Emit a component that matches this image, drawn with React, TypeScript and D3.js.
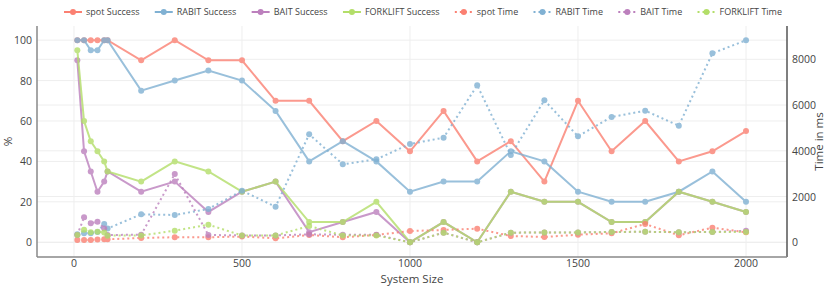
import React, { useEffect, useRef } from "react";
import * as d3 from "d3";

// system sizes on the x axis
const sizes = [10, 30, 50, 70, 90, 100, 200, 300, 400, 500, 600, 700, 800, 900, 1000, 1100, 1200, 1300, 1400, 1500, 1600, 1700, 1800, 1900, 2000];

// success rates in %
const spotSuccess = [100, 100, 100, 100, 100, 100, 90, 100, 90, 90, 70, 70, 50, 60, 45, 65, 40, 50, 30, 70, 45, 60, 40, 45, 55];
const rabitSuccess = [100, 100, 95, 95, 100, 100, 75, 80, 85, 80, 65, 40, 50, 40, 25, 30, 30, 45, 40, 25, 20, 20, 25, 35, 20];
const baitSuccess = [90, 45, 35, 25, 30, 35, 25, 30, 15, 25, 30, 5, 10, 15, 0, 10, 0, 25, 20, 20, 10, 10, 25, 20, 15];
const forkliftSuccess = [95, 60, 50, 45, 40, 35, 30, 40, 35, 25, 30, 10, 10, 20, 0, 10, 0, 25, 20, 20, 10, 10, 25, 20, 15];

// run times in ms
const spotTime = [100, 100, 100, 120, 130, 130, 190, 220, 220, 250, 175, 320, 220, 320, 494, 538, 595, 275, 232, 333, 393, 800, 305, 640, 437];
const rabitTime = [350, 393, 400, 450, 800, 600, 1224, 1193, 1456, 2256, 1556, 4721, 3410, 3628, 4297, 4573, 6863, 3816, 6208, 4634, 5478, 5753, 5097, 8262, 8831];
const baitTime = [320, 1093, 830, 900, 600, 320, 330, 2986, 320, 300, 300, 350, 330, 330, 0, 420, 0, 420, 430, 430, 450, 460, 440, 450, 500];
const forkliftTime = [320, 551, 437, 463, 430, 290, 300, 507, 770, 300, 300, 712, 300, 300, 0, 420, 0, 420, 430, 430, 450, 460, 440, 450, 450];

const names = ["spot Success", "RABIT Success", "BAIT Success", "FORKLIFT Success", "spot Time", "RABIT Time", "BAIT Time", "FORKLIFT Time"];
const colors = ["#fb8072", "#80b1d3", "#bc80bd", "#b3de69"];

const W = 830;
const H = 289;
const plot = { left: 37, right: 787, top: 26, bottom: 257 };
const font = '"Open Sans", verdana, arial, sans-serif';

export default function App() {
  const legendRef = useRef<SVGGElement>(null);

  const x = d3.scaleLinear().domain([-110, 2122]).range([plot.left, plot.right]);
  const yL = d3.scaleLinear().domain([-7.3, 107]).range([plot.bottom, plot.top]);
  const yR = d3.scaleLinear().domain([-643, 9456]).range([plot.bottom, plot.top]);

  const series = [
    { name: names[0], vals: spotSuccess, y: yL, color: colors[0], dot: false },
    { name: names[1], vals: rabitSuccess, y: yL, color: colors[1], dot: false },
    { name: names[2], vals: baitSuccess, y: yL, color: colors[2], dot: false },
    { name: names[3], vals: forkliftSuccess, y: yL, color: colors[3], dot: false },
    { name: names[4], vals: spotTime, y: yR, color: colors[0], dot: true },
    { name: names[5], vals: rabitTime, y: yR, color: colors[1], dot: true },
    { name: names[6], vals: baitTime, y: yR, color: colors[2], dot: true },
    { name: names[7], vals: forkliftTime, y: yR, color: colors[3], dot: true },
  ];

  // spread legend items between the two ends of the legend row
  useEffect(() => {
    const g = d3.select(legendRef.current);
    const items = g.selectAll<SVGGElement, unknown>("g.item");
    const widths: number[] = [];
    items.each(function () {
      const t = d3.select(this).select<SVGTextElement>("text").node();
      widths.push(22 + (t ? t.getComputedTextLength() : 50));
    });
    const start = 64;
    const end = 782;
    const gap = Math.max(8, (end - start - d3.sum(widths)) / (widths.length - 1));
    let cx = start;
    items.each(function (_, i) {
      d3.select(this).attr("transform", `translate(${cx},12)`);
      cx += widths[i] + gap;
    });
  }, []);

  const xTicks = x.ticks(5);
  const lTicks = yL.ticks(5);
  const rTicks = yR.ticks(5);

  return (
    <svg width={W} height={H} style={{ position: "absolute", left: 0, top: 0, background: "#fff" }} fontFamily={font}>
      {/* grid */}
      <g stroke="#eee" strokeWidth={1}>
        {xTicks.map((t) => (
          <line key={"gx" + t} x1={x(t)} x2={x(t)} y1={plot.top} y2={plot.bottom} />
        ))}
        {lTicks.map((t) => (
          <line key={"gl" + t} x1={plot.left} x2={plot.right} y1={yL(t)} y2={yL(t)} />
        ))}
        {rTicks.map((t) => (
          <line key={"gr" + t} x1={plot.left} x2={plot.right} y1={yR(t)} y2={yR(t)} />
        ))}
      </g>

      {/* traces */}
      {series.map((s) => {
        const line = d3
          .line<number>()
          .x((_, i) => x(sizes[i]))
          .y((d) => s.y(d));
        return (
          <g key={s.name} opacity={0.8}>
            <path d={line(s.vals) || ""} fill="none" stroke={s.color} strokeWidth={2} strokeDasharray={s.dot ? "2,3" : undefined} />
            {s.vals.map((v, i) => (
              <circle key={i} cx={x(sizes[i])} cy={s.y(v)} r={3} fill={s.color} />
            ))}
          </g>
        );
      })}

      {/* axes frame */}
      <g stroke="#888" strokeWidth={1.5} fill="none">
        <line x1={plot.left} x2={plot.left} y1={plot.top} y2={plot.bottom} />
        <line x1={plot.right} x2={plot.right} y1={plot.top} y2={plot.bottom} stroke="#555" />
        <line x1={plot.left} x2={plot.right} y1={plot.bottom} y2={plot.bottom} />
      </g>

      {/* tick labels */}
      <g fontSize={10.5} fill="#444">
        {xTicks.map((t) => (
          <text key={"tx" + t} x={x(t)} y={267} textAnchor="middle">
            {t}
          </text>
        ))}
        {lTicks.map((t) => (
          <text key={"tl" + t} x={32} y={yL(t) + 4} textAnchor="end">
            {t}
          </text>
        ))}
        {rTicks.map((t) => (
          <text key={"tr" + t} x={792} y={yR(t) + 4} textAnchor="start">
            {t}
          </text>
        ))}
      </g>

      {/* axis titles */}
      <g fontSize={11.5} fill="#444">
        <text x={412} y={283} textAnchor="middle">System Size</text>
        <text transform={`translate(12,${(plot.top + plot.bottom) / 2}) rotate(-90)`} textAnchor="middle">%</text>
        <text transform={`translate(823,${(plot.top + plot.bottom) / 2}) rotate(-90)`} textAnchor="middle">Time in ms</text>
      </g>

      {/* legend */}
      <g ref={legendRef} fontSize={9} fill="#444">
        {series.map((s) => (
          <g key={s.name} className="item">
            <line x1={0} x2={18} y1={0} y2={0} stroke={s.color} strokeWidth={2} strokeDasharray={s.dot ? "2,3" : undefined} />
            <circle cx={9} cy={0} r={3} fill={s.color} />
            <text x={22} y={3}>{s.name}</text>
          </g>
        ))}
      </g>
    </svg>
  );
}
